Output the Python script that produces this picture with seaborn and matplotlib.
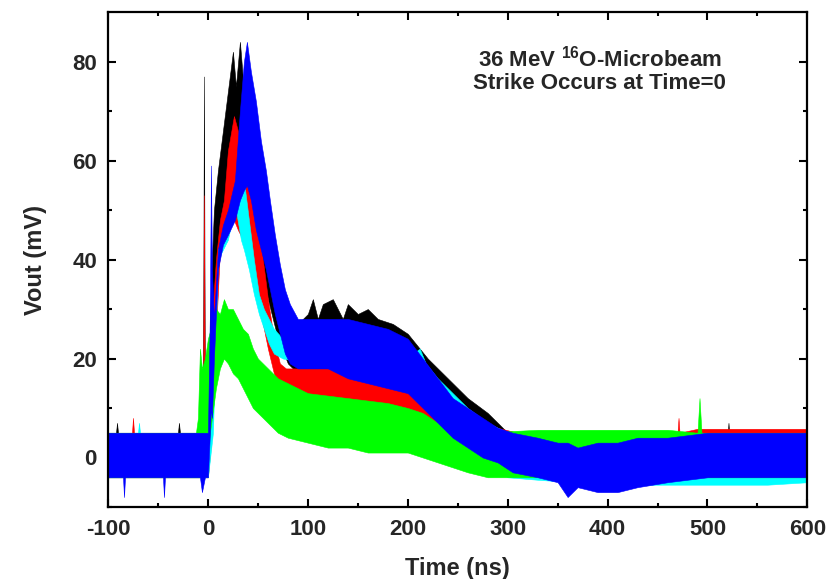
import pandas as pd
import matplotlib
matplotlib.use("Agg")
import matplotlib.pyplot as plt
import seaborn as sns

# Scope traces: lower / upper envelope. time in ns, Vout in mV
t_black = [-100, -92, -91, -90, -30, -29, -28, -5, -4, -3, 0, 3, 6, 10, 15, 20, 25, 28, 32,
           36, 42, 50, 60, 70, 80, 90, 100, 105, 110, 115, 125, 135, 140, 150, 160, 170,
           185, 200, 220, 240, 260, 280, 300, 330, 520, 521, 522, 600]
lo_black = [-4, -4, -4, -4, -4, -4, -4, -4, -4, -4, -4, 5, 25, 42, 48, 54, 58, 62, 60,
            56, 50, 42, 32, 24, 19, 17, 16, 16, 16, 16, 16, 15, 15, 15, 15, 14,
            13, 12, 9, 6, 3, 0, -3, -4, -4, -4, -4, -4]
hi_black = [5, 5, 7, 5, 5, 7, 5, 5, 77, 5, 10, 35, 50, 58, 66, 74, 82, 75, 84,
            74, 68, 58, 46, 36, 28, 27, 29, 32, 28, 31, 32, 28, 31, 29, 30, 28,
            27, 25, 20, 16, 12, 9, 5, 4, 4, 7, 4, 4]

t_red = [-100, -76, -75, -74, -5, -4, -3, 0, 4, 8, 12, 16, 20, 26, 30, 35, 40, 45, 50, 55,
         60, 66, 72, 78, 90, 110, 130, 150, 170, 190, 210, 230, 250, 270, 290, 310, 470,
         471, 472, 490, 560, 600]
lo_red = [-4, -4, -4, -4, -4, -4, -4, -4, 5, 25, 42, 44, 46, 48, 46, 44, 40, 36, 32, 27,
          22, 17, 14, 12, 10, 10, 10, 10, 10, 10, 9, 7, 4, 1, -2, -4, -4,
          -4, -4, -4, -4, -4]
hi_red = [5, 5, 8, 5, 5, 53, 5, 6, 28, 40, 48, 52, 62, 69, 66, 62, 58, 52, 48, 40,
          32, 24, 19, 18, 18, 18, 18, 17.5, 17.5, 17, 15, 13, 10, 8, 6, 5, 5,
          8, 5, 5.8, 5.8, 5.8]

t_cyan = [-100, -70, -69, -68, -1, 0, 5, 10, 15, 20, 24, 28, 33, 36, 41, 46, 51, 56, 61, 66,
          75, 90, 110, 130, 150, 170, 190, 205, 212, 218, 230, 245, 260, 280, 300, 330,
          400, 560, 600]
lo_cyan = [-4, -4, -4, -4, -4, -4, 5, 40, 42, 44, 48, 50, 44, 42, 38, 33, 29, 26, 23, 21,
           20, 19.5, 19, 18, 17, 16, 15, 13, 12, 10, 8, 5, 2, -1, -4, -4.5,
           -5.5, -5.5, -5]
hi_cyan = [5, 5, 7, 5, 5, 6, 12, 42, 44, 46, 50, 55, 57, 56, 48, 40, 33, 30, 28, 26,
           24, 23, 23, 22, 22, 22, 22, 21, 22, 19, 16, 13, 10, 7, 5, 5,
           5, 5, 5]

t_green = [-100, -12, -10, -8, -6, -3, 0, 4, 8, 12, 16, 20, 25, 30, 35, 40, 45, 50, 60, 70,
           80, 100, 120, 140, 160, 180, 200, 215, 230, 245, 260, 280, 300, 330, 460,
           490, 492, 494, 600]
lo_green = [-4, -4, -4, -4, -4, -2, 2, 8, 14, 18, 20, 19, 17, 16, 14, 12, 10, 9, 7, 5,
            4, 3, 2, 2, 1, 1, 1, 0, -1, -2, -3, -4, -4, -4, -4, -4, -4, -4, -4]
hi_green = [5, 5, 8, 22, 18, 20, 24, 27, 30, 29, 32, 30, 30, 28, 26, 25, 22, 20, 18, 16,
            15, 13, 12.5, 12, 11.5, 11, 10, 9, 7, 5, 5, 5, 5.3, 5.6, 5.6, 5, 12, 5, 5]

t_blue = [-100, -85, -84, -83, -60, -45, -44, -43, -20, -8, -6, -3, 0, 2, 3, 4, 6, 10, 15,
          20, 27, 32, 36, 39, 43, 48, 53, 58, 62, 67, 72, 77, 82, 90, 100, 120, 130, 140,
          160, 180, 200, 215, 230, 245, 260, 275, 290, 305, 330, 350, 360, 370, 390, 410,
          430, 460, 500, 540, 570, 600]
lo_blue = [-4, -4, -8, -4, -4, -4, -8, -4, -4, -4, -7, -4, -4, 5, 10, 8, 20, 38, 43,
           45, 48, 52, 54, 55, 52, 46, 42, 38, 34, 29, 25, 21, 19, 18, 18, 18, 17, 16,
           15, 14, 13, 10, 7, 4, 2, 0, -1, -3, -4, -5, -8, -6, -7, -7,
           -6, -5, -4, -4, -4, -4]
hi_blue = [5, 5, 5, 5, 5, 5, 5, 5, 5, 5, 5, 5, 5, 30, 59, 38, 28, 42, 47,
           50, 56, 70, 80, 84, 78, 72, 64, 58, 52, 45, 39, 34, 31, 28, 28, 28, 28, 28,
           27, 26, 24, 20, 16, 12, 10, 8, 6, 5, 4, 3, 3, 2, 3, 3,
           4, 4, 5, 5, 5, 5]

trace_names = ["black", "red", "cyan", "green", "blue"]
trace_colors = {"black": "#000000", "red": "#ff0000", "cyan": "#00ffff",
                "green": "#00ff00", "blue": "#0000ff"}

traces = {
    "black": (t_black, lo_black, hi_black),
    "red": (t_red, lo_red, hi_red),
    "cyan": (t_cyan, lo_cyan, hi_cyan),
    "green": (t_green, lo_green, hi_green),
    "blue": (t_blue, lo_blue, hi_blue),
}

rows = []
for name, (ts, los, his) in traces.items():
    assert len(ts) == len(los) == len(his), name
    for t, lo, hi in zip(ts, los, his):
        rows.append({"trace": name, "t": t, "v": lo})
        rows.append({"trace": name, "t": t, "v": hi})
df = pd.DataFrame(rows)

sns.set_style("ticks")
plt.rcParams["font.family"] = ["Liberation Sans", "DejaVu Sans"]
plt.rcParams["font.weight"] = "bold"
plt.rcParams["axes.unicode_minus"] = False
plt.rcParams["mathtext.fontset"] = "custom"
plt.rcParams["mathtext.bf"] = "Liberation Sans:bold"
plt.rcParams["mathtext.rm"] = "Liberation Sans:bold"

fig = plt.figure(figsize=(8.4, 5.79), dpi=100)
ax = fig.add_axes([0.1286, 0.1244, 0.8326, 0.8546])

# min..max band at each time = envelope of each noisy trace, drawn in legend order
sns.lineplot(data=df, x="t", y="v", hue="trace", hue_order=trace_names,
             palette=trace_colors, estimator="mean", errorbar=("pi", 100),
             err_kws={"alpha": 1, "linewidth": 0.4}, linewidth=0,
             legend=False, ax=ax)

ax.set_xlim(-100, 600)
ax.set_ylim(-10, 90)
ax.set_xticks(range(-100, 601, 100))
ax.set_yticks(range(0, 81, 20))
ax.set_xticks(range(-50, 600, 100), minor=True)
ax.set_yticks(range(-10, 90, 20), minor=True)
ax.tick_params(which="both", direction="in", top=True, right=True, width=1.5,
               labelsize=16, color="black")
ax.tick_params(which="major", length=6)
ax.tick_params(which="minor", length=3)
ax.tick_params(axis="x", which="major", pad=9)
ax.tick_params(axis="y", which="major", pad=8)
for lab in ax.get_xticklabels() + ax.get_yticklabels():
    lab.set_fontweight("bold")
for sp in ax.spines.values():
    sp.set_linewidth(1.6)
    sp.set_color("black")

ax.set_xlabel("Time (ns)", fontsize=17, fontweight="bold", labelpad=12)
ax.set_ylabel("Vout (mV)", fontsize=17, fontweight="bold", labelpad=18)

ax.text(392, 80.7, r"36 MeV $^{\mathbf{16}}$O-Microbeam", ha="center", va="center",
        fontsize=16, fontweight="bold")
ax.text(392, 75.5, "Strike Occurs at Time=0", ha="center", va="center",
        fontsize=16, fontweight="bold")

fig.savefig("out.png", dpi=100)
